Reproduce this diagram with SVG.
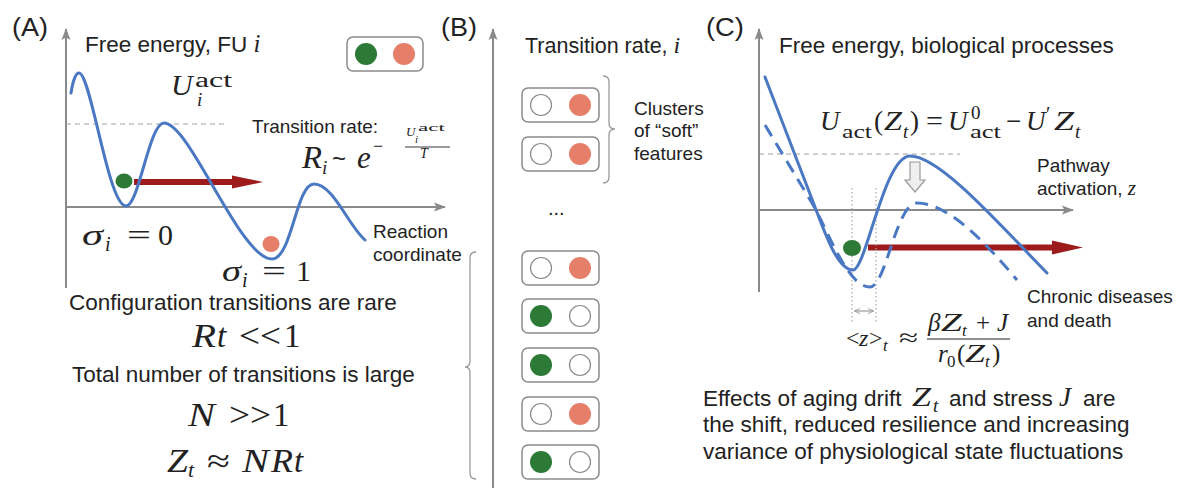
<svg xmlns="http://www.w3.org/2000/svg" width="1200" height="500" viewBox="0 0 1200 500">
<defs>
<style>
.t{font-family:"Liberation Sans",Arial,sans-serif;fill:#222}
.m{font-family:"Liberation Serif","Times New Roman",serif;fill:#222}
.i{font-style:italic}
.ax{stroke:#8a8a8a;stroke-width:2;fill:none}
.curve{stroke:#4a78c2;stroke-width:3;fill:none;stroke-linecap:round}
.dcurve{stroke:#4a78c2;stroke-width:3;fill:none;stroke-dasharray:13 8}
.dash{stroke:#a0a0a0;stroke-width:1.2;stroke-dasharray:5 4;fill:none}
.dot{stroke:#a8a8a8;stroke-width:1.2;stroke-dasharray:1.5 2.5;fill:none}
.box{fill:#fff;stroke:#8a8a8a;stroke-width:1.5}
.g{fill:#2c7a36}
.s{fill:#e57f69}
.e{fill:#fff;stroke:#8a8a8a;stroke-width:1.2}
.red{fill:#9e1b1b}
.brace{fill:none;stroke:#9a9a9a;stroke-width:1.3}
</style>
<marker id="ah" viewBox="0 0 12 10" refX="11" refY="5" markerWidth="13" markerHeight="10" markerUnits="userSpaceOnUse" orient="auto"><path d="M0,0.5 L12,5 L0,9.5 L2.5,5 Z" fill="#8a8a8a"/></marker>
<marker id="sa" viewBox="0 0 8 8" refX="7" refY="4" markerWidth="6" markerHeight="6" markerUnits="userSpaceOnUse" orient="auto-start-reverse"><path d="M0,0.5 L8,4 L0,7.5" fill="none" stroke="#999" stroke-width="1.2"/></marker>
</defs>
<rect width="1200" height="500" fill="#fff"/>

<!-- Panel labels -->
<g id="labels">
<text class="t" x="12" y="36" font-size="25" textLength="36" lengthAdjust="spacingAndGlyphs">(A)</text>
<text class="t" x="441" y="36" font-size="25" textLength="36" lengthAdjust="spacingAndGlyphs">(B)</text>
<text class="t" x="706" y="36" font-size="25" textLength="38" lengthAdjust="spacingAndGlyphs">(C)</text>
</g>

<!-- Connectors: axes, arrows, braces -->
<g id="connectors">
<line class="ax" x1="66" y1="288" x2="66" y2="29" marker-end="url(#ah)"/>
<line class="ax" x1="66" y1="207" x2="445" y2="207" marker-end="url(#ah)"/>
<line class="ax" x1="493" y1="488" x2="493" y2="29" marker-end="url(#ah)"/>
<line class="ax" x1="759" y1="292" x2="759" y2="29" marker-end="url(#ah)"/>
<line class="ax" x1="759" y1="210" x2="1073" y2="210" marker-end="url(#ah)"/>
<path class="red" d="M134,179 L232,179 L232,175.5 L263,182 L232,188.5 L232,185 L134,185 Z"/>
<path class="red" d="M868,244.5 L1052,244.5 L1052,240.5 L1083,247.5 L1052,254.5 L1052,250.5 L868,250.5 Z"/>
<path d="M910,162 L920,162 L920,180 L925,180 L915,192 L905,180 L910,180 Z" fill="#efefef" stroke="#9a9a9a" stroke-width="1.2"/>
<path class="brace" d="M603,76 Q609,76 609,82 L609,123 Q609,129 615,129 Q609,129 609,135 L609,177 Q609,183 603,183"/>
<path class="brace" d="M476,252 Q470,252 470,258 L470,361 Q470,367 465,367 Q470,367 470,373 L470,473 Q470,479 476,479"/>
<line x1="855" y1="311" x2="873" y2="311" stroke="#999" stroke-width="1.2" marker-start="url(#sa)" marker-end="url(#sa)"/>
</g>

<!-- Panel A -->
<g id="panelA-title">
<text class="t" x="85" y="52" font-size="22.5">Free energy, FU <tspan class="m i" font-size="25">i</tspan></text>
</g>
<g id="panelA-legend">
<rect class="box" x="347" y="37" width="76" height="34" rx="6"/>
<ellipse class="g" cx="366" cy="54" rx="11" ry="11"/>
<ellipse class="s" cx="404" cy="54" rx="11" ry="11"/>
</g>
<g id="panelA-landscape">
<line class="dash" x1="66" y1="124" x2="224" y2="124"/>
<path class="curve" d="M71,93 C73,80 76,73 79,73 C91,73 108,206 126,206 C139,206 149,123 164,123 C190,123 240,259 272,259 C292,259 296,184 314,184 C333,184 348,225 365,240"/>
<ellipse class="g" cx="124" cy="181" rx="8.5" ry="7.5"/>
<ellipse class="s" cx="271" cy="244" rx="8.5" ry="8"/>
</g>
<g id="panelA-uact">
<text class="m i" x="171" y="95" font-size="30">U</text>
<text class="m" x="195" y="87" font-size="20" textLength="37" lengthAdjust="spacingAndGlyphs">act</text>
<text class="m i" x="197" y="106" font-size="19">i</text>
</g>
<g id="panelA-rate">
<text class="t" x="252" y="133" font-size="19">Transition rate:</text>
<text class="m i" x="302" y="168" font-size="31" textLength="20" lengthAdjust="spacingAndGlyphs">R</text>
<text class="m i" x="322" y="174" font-size="19">i</text>
<text class="t" x="332" y="167" font-size="24">~</text>
<text class="m i" x="357" y="168" font-size="31">e</text>
<text class="m" x="373" y="152" font-size="18">−</text>
<text class="m i" x="406" y="136" font-size="13">U</text>
<text class="m" x="418" y="131" font-size="11" textLength="27" lengthAdjust="spacingAndGlyphs">act</text>
<text class="m i" x="415" y="143" font-size="11">i</text>
<line x1="405" y1="147" x2="450" y2="147" stroke="#222" stroke-width="0.9"/>
<text class="m i" x="420" y="158" font-size="14">T</text>
</g>
<g id="panelA-sigma">
<text class="m i" x="82" y="245" font-size="30" textLength="21" lengthAdjust="spacingAndGlyphs">σ</text>
<text class="m i" x="105" y="251" font-size="20">i</text>
<text class="m" x="127" y="245" font-size="30" textLength="24" lengthAdjust="spacingAndGlyphs">=</text>
<text class="m" x="158" y="245" font-size="30">0</text>
<text class="m i" x="222" y="281" font-size="30" textLength="19" lengthAdjust="spacingAndGlyphs">σ</text>
<text class="m i" x="242" y="287" font-size="20">i</text>
<text class="m" x="262" y="281" font-size="30" textLength="24" lengthAdjust="spacingAndGlyphs">=</text>
<text class="m" x="296" y="281" font-size="30">1</text>
<text class="t" x="373" y="238" font-size="19">Reaction</text>
<text class="t" x="373" y="261" font-size="19">coordinate</text>
</g>
<g id="panelA-notes">
<text class="t" x="69" y="310" font-size="22.5">Configuration transitions are rare</text>
<text class="m i" x="192" y="347" font-size="33" textLength="24" lengthAdjust="spacingAndGlyphs">R</text>
<text class="m i" x="217" y="347" font-size="33">t</text>
<text class="m" x="239" y="347" font-size="33" textLength="42" lengthAdjust="spacingAndGlyphs">&lt;&lt;</text>
<text class="m" x="284" y="347" font-size="33">1</text>
<text class="t" x="72" y="382" font-size="22.5">Total number of transitions is large</text>
<text class="m i" x="188" y="426" font-size="33" textLength="27" lengthAdjust="spacingAndGlyphs">N</text>
<text class="m" x="229" y="426" font-size="33" textLength="42" lengthAdjust="spacingAndGlyphs">&gt;&gt;</text>
<text class="m" x="273" y="426" font-size="33">1</text>
<text class="m i" x="167" y="472" font-size="33" textLength="21" lengthAdjust="spacingAndGlyphs">Z</text>
<text class="m i" x="188" y="477" font-size="22">t</text>
<text class="m" x="207" y="472" font-size="33" textLength="23" lengthAdjust="spacingAndGlyphs">≈</text>
<text class="m i" x="242" y="472" font-size="33" textLength="27" lengthAdjust="spacingAndGlyphs">N</text>
<text class="m i" x="271" y="472" font-size="33" textLength="22" lengthAdjust="spacingAndGlyphs">R</text>
<text class="m i" x="294" y="472" font-size="33">t</text>
</g>

<!-- Panel B -->
<g id="panelB-title">
<text class="t" x="525" y="53" font-size="21.5">Transition rate, <tspan class="m i" font-size="24">i</tspan></text>
</g>
<g id="panelB-box1"><rect class="box" x="522" y="88" width="77" height="34" rx="6"/><circle class="e" cx="541" cy="105" r="10.5"/><circle class="s" cx="580" cy="105" r="11"/></g>
<g id="panelB-box2"><rect class="box" x="522" y="137" width="77" height="34" rx="6"/><circle class="e" cx="541" cy="154" r="10.5"/><circle class="s" cx="580" cy="154" r="11"/></g>
<g id="panelB-ellipsis"><text class="t" x="548" y="215" font-size="20">...</text></g>
<g id="panelB-box3"><rect class="box" x="522" y="251" width="77" height="34" rx="6"/><circle class="e" cx="541" cy="268" r="10.5"/><circle class="s" cx="580" cy="268" r="11"/></g>
<g id="panelB-box4"><rect class="box" x="522" y="299" width="77" height="34" rx="6"/><circle class="g" cx="541" cy="316" r="11"/><circle class="e" cx="580" cy="316" r="10.5"/></g>
<g id="panelB-box5"><rect class="box" x="522" y="348" width="77" height="34" rx="6"/><circle class="g" cx="541" cy="365" r="11"/><circle class="e" cx="580" cy="365" r="10.5"/></g>
<g id="panelB-box6"><rect class="box" x="522" y="397" width="77" height="34" rx="6"/><circle class="e" cx="541" cy="414" r="10.5"/><circle class="s" cx="580" cy="414" r="11"/></g>
<g id="panelB-box7"><rect class="box" x="522" y="445" width="77" height="34" rx="6"/><circle class="g" cx="541" cy="462" r="11"/><circle class="e" cx="580" cy="462" r="10.5"/></g>
<g id="panelB-clusters">
<text class="t" x="634" y="115" font-size="19">Clusters</text>
<text class="t" x="634" y="137" font-size="19">of “soft”</text>
<text class="t" x="634" y="160" font-size="19">features</text>
</g>

<!-- Panel C -->
<g id="panelC-title">
<text class="t" x="779" y="53" font-size="22.5">Free energy, biological processes</text>
</g>
<g id="panelC-formula">
<text class="m i" x="820" y="130" font-size="27">U</text>
<text class="m" x="842" y="138" font-size="19" textLength="30" lengthAdjust="spacingAndGlyphs">act</text>
<text class="m" x="874" y="130" font-size="27">(</text>
<text class="m i" x="884" y="130" font-size="27" textLength="18" lengthAdjust="spacingAndGlyphs">Z</text>
<text class="m i" x="903" y="138" font-size="19">t</text>
<text class="m" x="910" y="130" font-size="27">)</text>
<text class="m" x="926" y="130" font-size="27" textLength="17" lengthAdjust="spacingAndGlyphs">=</text>
<text class="m i" x="948" y="130" font-size="27">U</text>
<text class="m" x="971" y="119" font-size="19">0</text>
<text class="m" x="970" y="138" font-size="19" textLength="31" lengthAdjust="spacingAndGlyphs">act</text>
<text class="m" x="1006" y="130" font-size="27">−</text>
<text class="m i" x="1026" y="130" font-size="27">U</text>
<text class="m" x="1046" y="121" font-size="20">′</text>
<text class="m i" x="1054" y="130" font-size="27" textLength="20" lengthAdjust="spacingAndGlyphs">Z</text>
<text class="m i" x="1075" y="138" font-size="19">t</text>
</g>
<g id="panelC-landscape">
<line class="dash" x1="759" y1="154" x2="960" y2="154"/>
<line class="dot" x1="852" y1="188" x2="852" y2="322"/>
<line class="dot" x1="876" y1="188" x2="876" y2="322"/>
<path class="dcurve" d="M765,125 L812,203 C830,235 848,287 870,287 C886,287 896,203 917,203 C950,203 990,248 1017,280"/>
<path class="curve" d="M765,77 L815,207 C826,236 838,270 853,270 C866,270 884,156 910,156 C940,156 1000,225 1047,273"/>
<ellipse class="g" cx="852" cy="248" rx="9" ry="8"/>
</g>
<g id="panelC-axislabels">
<text class="t" x="1037" y="172" font-size="19">Pathway</text>
<text class="t" x="1037" y="195" font-size="19">activation, <tspan class="m i" font-size="21">z</tspan></text>
<text class="t" x="1027" y="303" font-size="19">Chronic diseases</text>
<text class="t" x="1027" y="327" font-size="19">and death</text>
</g>
<g id="panelC-mean">
<text class="m" x="846" y="346" font-size="24">&lt;</text>
<text class="m i" x="859" y="346" font-size="24">z</text>
<text class="m" x="869" y="346" font-size="24">&gt;</text>
<text class="m i" x="883" y="351" font-size="17">t</text>
<text class="m" x="899" y="346" font-size="25" textLength="19" lengthAdjust="spacingAndGlyphs">≈</text>
<text class="m i" x="928" y="331" font-size="25">β</text>
<text class="m i" x="941" y="331" font-size="25" textLength="21" lengthAdjust="spacingAndGlyphs">Z</text>
<text class="m i" x="962" y="336" font-size="17">t</text>
<text class="m" x="976" y="331" font-size="25">+</text>
<text class="m i" x="997" y="331" font-size="25">J</text>
<line x1="927" y1="339" x2="1010" y2="339" stroke="#222" stroke-width="1"/>
<text class="m i" x="938" y="362" font-size="25">r</text>
<text class="m" x="947" y="367" font-size="17">0</text>
<text class="m" x="957" y="362" font-size="25">(</text>
<text class="m i" x="965" y="362" font-size="25" textLength="20" lengthAdjust="spacingAndGlyphs">Z</text>
<text class="m i" x="985" y="367" font-size="17">t</text>
<text class="m" x="992" y="362" font-size="25">)</text>
</g>
<g id="panelC-caption">
<text class="t" x="703" y="406" font-size="22.5">Effects of aging drift</text>
<text class="m i" x="912" y="406" font-size="27" textLength="19" lengthAdjust="spacingAndGlyphs">Z</text>
<text class="m i" x="933" y="412" font-size="19">t</text>
<text class="t" x="949" y="406" font-size="22.5">and stress</text>
<text class="m i" x="1059" y="406" font-size="27">J</text>
<text class="t" x="1083" y="406" font-size="22.5">are</text>
<text class="t" x="703" y="432" font-size="22.5">the shift, reduced resilience and increasing</text>
<text class="t" x="703" y="459" font-size="22.5">variance of physiological state fluctuations</text>
</g>
</svg>
